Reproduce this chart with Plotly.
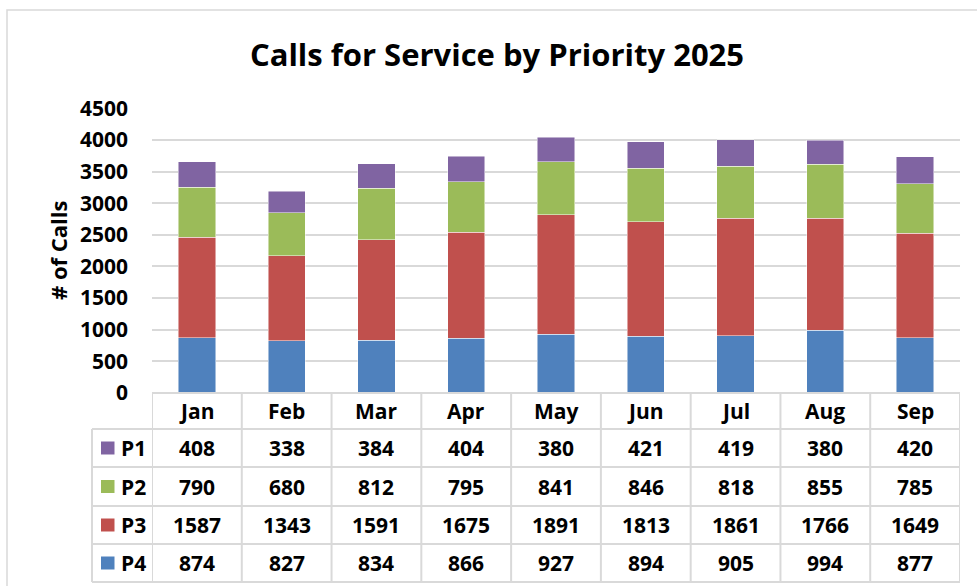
import plotly.graph_objects as go

months = ["Jan", "Feb", "Mar", "Apr", "May", "Jun", "Jul", "Aug", "Sep"]
p1 = [408, 338, 384, 404, 380, 421, 419, 380, 420]
p2 = [790, 680, 812, 795, 841, 846, 818, 855, 785]
p3 = [1587, 1343, 1591, 1675, 1891, 1813, 1861, 1766, 1649]
p4 = [874, 827, 834, 866, 927, 894, 905, 994, 877]
y_ticks = [0, 500, 1000, 1500, 2000, 2500, 3000, 3500, 4000, 4500]

W, H = 977, 586
FONT = "Open Sans"
GRID = "#d9d9d9"
FS = 21

def fx(px):
    return px / W

def fy(py):
    return 1 - py / H

series = [("P4", p4, "#4F81BD"), ("P3", p3, "#C0504D"),
          ("P2", p2, "#9BBB59"), ("P1", p1, "#8064A2")]

fig = go.Figure()
for name, vals, col in series:
    fig.add_trace(go.Bar(x=months, y=vals, name=name, marker_color=col,
                         marker_line_width=0.8, marker_line_color="rgba(255,255,255,0.6)"))

plot_l, plot_r, plot_t, plot_b = 152, 960, 108.3, 393

fig.update_layout(
    width=W, height=H, barmode="stack", bargap=0.585,
    margin=dict(l=0, r=0, t=0, b=0, pad=0, autoexpand=False),
    paper_bgcolor="white", plot_bgcolor="white",
    showlegend=False,
    font=dict(family=FONT, color="black", size=FS, weight="bold"),
    xaxis=dict(domain=[fx(plot_l), fx(plot_r)], showticklabels=False, automargin=False,
               showgrid=False, zeroline=False, showline=False,
               range=[-0.5, len(months) - 0.5], fixedrange=True),
    yaxis=dict(domain=[fy(plot_b), fy(plot_t)], range=[0, 4500], automargin=False,
               tickvals=y_ticks, ticktext=[str(v) for v in y_ticks],
               showgrid=True, gridcolor=GRID, gridwidth=1.5,
               zeroline=False, showline=False, ticklabelstandoff=23,
               tickfont=dict(family=FONT, size=FS, weight="bold")),
    title=dict(text="Calls for Service by Priority 2025", x=fx(497), xanchor="center",
               y=fy(55), yanchor="middle", automargin=False,
               font=dict(family=FONT, size=31, weight="bold", color="black")),
)

shapes = []
annots = []
# outer chart border
shapes.append(dict(type="rect", xref="paper", yref="paper", x0=fx(7), x1=fx(1000),
                   y0=fy(10), y1=fy(600), line=dict(color=GRID, width=1.5)))

# y-axis title
annots.append(dict(text="# of Calls", xref="paper", yref="paper", x=fx(58), y=fy(250),
                   textangle=-90, showarrow=False, xanchor="center", yanchor="middle",
                   font=dict(family=FONT, size=22, weight="bold")))

# data table
row_lines = [393, 429, 467, 506, 544, 582]
leg_left = 92
for i, yl in enumerate(row_lines):
    x0 = plot_l if i == 0 else leg_left
    shapes.append(dict(type="line", xref="paper", yref="paper", x0=fx(x0), x1=fx(plot_r),
                       y0=fy(yl), y1=fy(yl), line=dict(color=GRID, width=2)))
for k in range(len(months) + 1):
    shapes.append(dict(type="line", xref="x", yref="paper", x0=k - 0.5, x1=k - 0.5,
                       y0=fy(row_lines[0]), y1=fy(row_lines[-1]),
                       line=dict(color=GRID, width=2)))
shapes.append(dict(type="line", xref="paper", yref="paper", x0=fx(leg_left), x1=fx(leg_left),
                   y0=fy(row_lines[1]), y1=fy(row_lines[-1]), line=dict(color=GRID, width=2)))

# header
hdr_c = (row_lines[0] + row_lines[1]) / 2
for m in months:
    annots.append(dict(text=m, xref="x", yref="paper", x=m, y=fy(hdr_c),
                       showarrow=False, xanchor="center", yanchor="middle",
                       font=dict(family=FONT, size=FS, weight="bold")))

# rows: P1, P2, P3, P4
rows = [("P1", p1, "#8064A2"), ("P2", p2, "#9BBB59"), ("P3", p3, "#C0504D"), ("P4", p4, "#4F81BD")]
for r, (name, vals, col) in enumerate(rows):
    top, bot = row_lines[r + 1], row_lines[r + 2]
    cy = (top + bot) / 2
    shapes.append(dict(type="rect", xref="paper", yref="paper", x0=fx(101), x1=fx(114.5),
                       y0=fy(cy - 6.5), y1=fy(cy + 6.5), fillcolor=col, line=dict(width=0)))
    annots.append(dict(text=name, xref="paper", yref="paper", x=fx(119), y=fy(cy),
                       showarrow=False, xanchor="left", yanchor="middle",
                       font=dict(family=FONT, size=FS, weight="bold")))
    for m, v in zip(months, vals):
        annots.append(dict(text=str(v), xref="x", yref="paper", x=m, y=fy(cy),
                           showarrow=False, xanchor="center", yanchor="middle",
                           font=dict(family=FONT, size=FS, weight="bold")))

fig.update_layout(shapes=shapes, annotations=annots)
fig.write_html("out.html", config={"displayModeBar": False},
               post_script="document.body.style.margin='0px';document.body.style.overflow='hidden';")
